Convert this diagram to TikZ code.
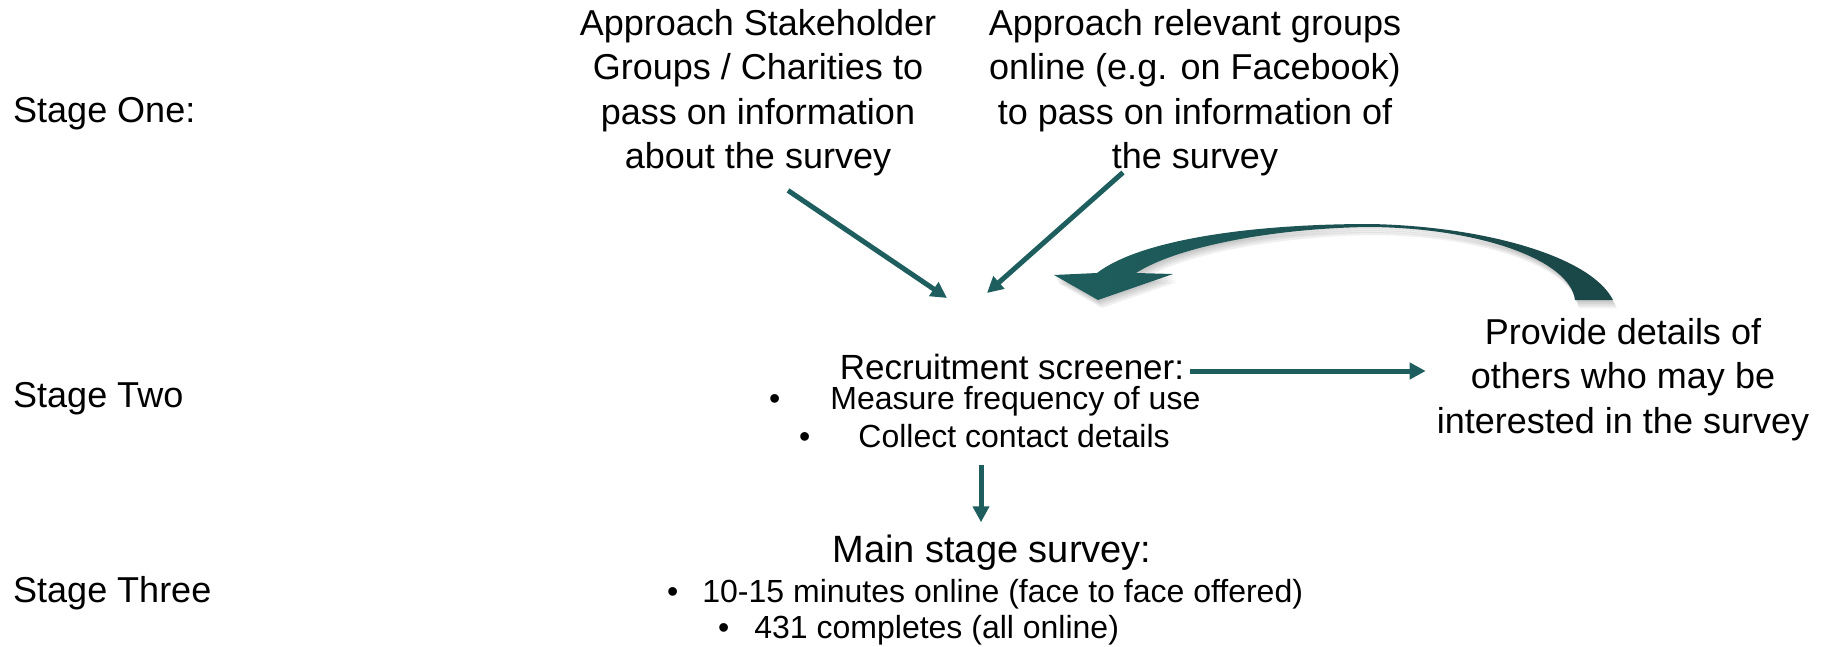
\documentclass[tikz,border=0pt]{standalone}
\usepackage{fontspec}
\setmainfont{Liberation Sans}
\usetikzlibrary{arrows.meta, calc}
\definecolor{flowteal}{HTML}{1F5E5E}
\definecolor{flowdark}{HTML}{1A4646}
\newcommand{\bigtxt}{\fontsize{36}{44.5}\selectfont}
\newcommand{\smalltxt}{\fontsize{32}{38}\selectfont}
% outline of the bent arrow that loops back from the referral box
\newcommand{\feedbackpath}{(1613,300) .. controls (1590,255) and (1480,226) .. (1370,224)
  .. controls (1250,224) and (1140,240) .. (1097,273) -- (1054,275) -- (1098,300)
  -- (1173,274) -- (1136,273) .. controls (1180,245) and (1280,228) .. (1370,227)
  .. controls (1480,228) and (1570,260) .. (1575,300) -- cycle}
\tikzset{
  stagelbl/.style={anchor=base west, inner sep=0pt, font=\bigtxt},
  blk/.style={anchor=north, inner sep=0pt, align=center, font=\bigtxt},
  head/.style={anchor=base, inner sep=0pt, font=\bigtxt},
  item/.style={anchor=base west, inner sep=0pt, font=\smalltxt},
  arr/.style={-{Triangle[length=16pt, width=16pt]}, line width=5pt, draw=#1},
  arr/.default=flowteal,
}

\begin{document}
\begin{tikzpicture}[x=1pt, y=-1pt]
  \useasboundingbox (0,0) rectangle (1825,647);

  % Stage labels down the left
  \node[stagelbl] (stone) at (13,123) {Stage One:};
  \node[stagelbl] (sttwo) at (13,407) {Stage Two};
  \node[stagelbl] (stthree) at (13,602) {Stage Three};

  % Stage one: the two ways in
  \node[blk] (charities) at (758,9) {Approach Stakeholder\\Groups / Charities to\\pass on information\\about the survey};
  \node[blk] (online) at (1195,9) {Approach relevant groups\\online (e.g. on Facebook)\\to pass on information of\\the survey};

  % Stage two
  \node[head, font=\fontsize{35}{42}\selectfont] (screener) at (1012,379) {Recruitment screener:};
  \node[item] (measure) at (769,409) {\textbullet\hspace{50pt}Measure frequency of use};
  \node[item] (collect) at (799,447) {\textbullet\hspace{48pt}Collect contact details};
  \node[blk] (provide) at (1623,318) {Provide details of\\others who may be\\interested in the survey};

  % Stage three
  \node[head, font=\fontsize{38}{44}\selectfont] (mainsurvey) at (992,562) {Main stage survey:};
  \node[item] (minutes) at (667,602) {\textbullet\hspace{24pt}10-15 minutes online (face to face offered)};
  \node[item] (completes) at (718,638) {\textbullet\hspace{25pt}431 completes (all online)};

  \coordinate (inA) at (947,298);
  \coordinate (inB) at (987,293);

  % Arrows
  \draw[arr] ([shift={(30,14)}]charities.south) -- (inA);
  \draw[arr] ([shift={(-72,-4)}]online.south) -- (inB);
  \draw[arr, shorten <=6pt, shorten >=11pt] ([yshift=8pt]screener.base east) -- ([yshift=8pt]screener.base east -| provide.west);
  \draw[arr, shorten <=17pt, shorten >=12pt] ([xshift=-11pt]mainsurvey.north |- collect.south) -- ([xshift=-11pt]mainsurvey.north);

  % Bent arrow back to the screener, with its soft shadow
  \foreach \dx/\dy in {1/2, 2/4, 3/6, 4/8}
    \fill[black, opacity=0.06] [shift={(\dx,\dy)}] \feedbackpath;
  \shade[left color=flowteal, right color=flowdark] \feedbackpath;
\end{tikzpicture}
\end{document}
